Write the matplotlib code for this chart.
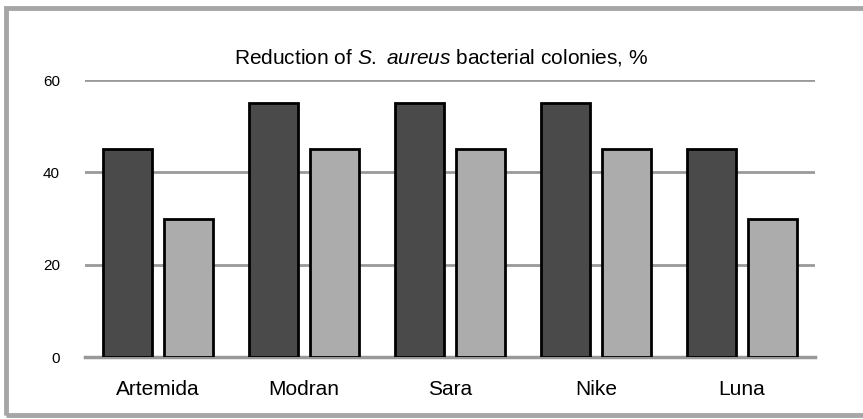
import matplotlib
matplotlib.use("Agg")
import matplotlib.pyplot as plt
import numpy as np
from matplotlib.patches import Rectangle

categories = ["Artemida", "Modran", "Sara", "Nike", "Luna"]
series_dark = [45, 55, 55, 55, 45]
series_light = [30, 45, 45, 45, 30]
yticks = [0, 20, 40, 60]

plt.rcParams['font.family'] = ['Liberation Sans', 'DejaVu Sans']
plt.rcParams['mathtext.fontset'] = 'custom'
plt.rcParams['mathtext.rm'] = 'Liberation Sans'
plt.rcParams['mathtext.it'] = 'Liberation Sans:italic'

fig = plt.figure(figsize=(8.63, 4.19), dpi=100)
fig.patch.set_facecolor('white')
# outer frame
fig.patches.append(Rectangle((6/863, 4/419), 1.2, 1 - 12/419, transform=fig.transFigure,
                             fill=False, edgecolor='#a6a6a6', linewidth=3.5, zorder=0))

ax = fig.add_axes([85/863, 1 - 357/419, 730/863, (357 - 80)/419])
x = np.arange(len(categories))
w = 0.335
off = 0.21
ax.bar(x - off, series_dark, w, color='#4a4a4a', edgecolor='black', linewidth=2, zorder=3)
ax.bar(x + off, series_light, w, color='#acacac', edgecolor='black', linewidth=2, zorder=3)

ax.set_xlim(-0.5, len(categories) - 0.5)
ax.set_ylim(0, 60)
ax.set_yticks(yticks)
ax.set_xticks(x)
ax.set_xticklabels(categories, fontsize=15)
ax.tick_params(axis='both', length=0)
ax.tick_params(axis='y', pad=18, labelsize=11)
ax.tick_params(axis='x', pad=16.5)
ax.yaxis.grid(True, color='#999999', linewidth=2, zorder=1)
ax.set_axisbelow(True)
for s in ax.spines.values():
    s.set_visible(False)
ax.axhline(0, color='#999999', linewidth=2.5, zorder=2, clip_on=False)

fig.text(441/863, 1 - 57/419, r"Reduction of $\mathit{S.}$ $\mathit{aureus}$ bacterial colonies, %",
         ha='center', va='center', fontsize=15)

fig.savefig("out.png", dpi=100)
